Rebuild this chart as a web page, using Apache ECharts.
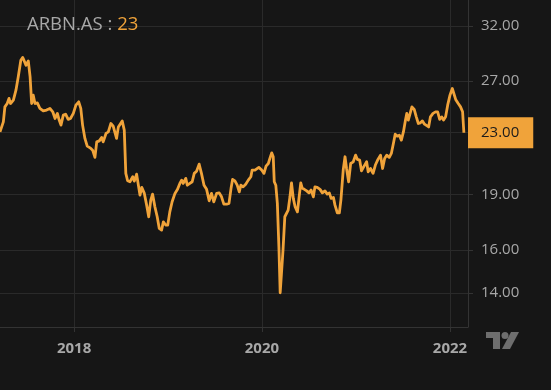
<!DOCTYPE html>
<html>
<head>
<meta charset="utf-8">
<script src="https://cdn.jsdelivr.net/npm/echarts@6/dist/echarts.min.js"></script>
<style>
html,body{margin:0;padding:0;background:#161616;}
#c{width:551px;height:390px;}
</style>
</head>
<body>
<div id="c"></div>
<script>
const dates = [
'2017-03-19','2017-04-01','2017-04-07','2017-04-16','2017-04-23','2017-04-29','2017-05-10','2017-05-20','2017-05-29','2017-06-08','2017-06-15','2017-06-20','2017-06-28','2017-07-07','2017-07-14','2017-07-20','2017-07-26','2017-08-02','2017-08-11','2017-08-21','2017-09-03','2017-09-16','2017-09-29','2017-10-10','2017-10-19','2017-10-28','2017-11-04','2017-11-11','2017-11-20','2017-11-29','2017-12-09','2017-12-18','2017-12-29',
'2018-01-08','2018-01-19','2018-01-27','2018-02-03','2018-02-12','2018-02-21','2018-03-04','2018-03-14','2018-03-23','2018-03-30','2018-04-09','2018-04-18','2018-04-24','2018-05-05','2018-05-14','2018-05-24','2018-06-02','2018-06-09','2018-06-15','2018-06-22','2018-06-28','2018-07-07','2018-07-15','2018-07-21','2018-07-28','2018-08-06','2018-08-17','2018-08-23','2018-09-01','2018-09-07','2018-09-14','2018-09-21','2018-10-01','2018-10-10','2018-10-18','2018-10-26','2018-11-02','2018-11-11','2018-11-20','2018-11-28','2018-12-07','2018-12-14','2018-12-23','2018-12-31',
'2019-01-08','2019-01-17','2019-01-28','2019-02-07','2019-02-16','2019-02-23','2019-03-01','2019-03-11','2019-03-17','2019-03-27','2019-04-05','2019-04-13','2019-04-22','2019-05-02','2019-05-11','2019-05-21','2019-05-31','2019-06-10','2019-06-19','2019-06-28','2019-07-09','2019-07-19','2019-07-28','2019-08-06','2019-08-17','2019-08-26','2019-09-03','2019-09-09','2019-09-18','2019-09-27','2019-10-05','2019-10-11','2019-10-20','2019-10-30','2019-11-09','2019-11-19','2019-11-24','2019-12-05','2019-12-11','2019-12-20','2019-12-31',
'2020-01-09','2020-01-17','2020-01-26','2020-02-01','2020-02-08','2020-02-14','2020-02-18','2020-02-24','2020-03-01','2020-03-07','2020-03-12','2020-03-17','2020-03-23','2020-03-30','2020-04-06','2020-04-12','2020-04-19','2020-04-25','2020-05-02','2020-05-09','2020-05-18','2020-05-24','2020-05-31','2020-06-06','2020-06-14','2020-06-23','2020-07-02','2020-07-10','2020-07-19','2020-07-25','2020-08-03','2020-08-14','2020-08-23','2020-09-02','2020-09-11','2020-09-19','2020-09-26','2020-10-05','2020-10-11','2020-10-20','2020-10-28','2020-11-03','2020-11-12','2020-11-19','2020-11-25','2020-12-03','2020-12-11','2020-12-21','2020-12-30',
'2021-01-06','2021-01-15','2021-01-22','2021-01-31','2021-02-11','2021-02-17','2021-02-26','2021-03-08','2021-03-17','2021-03-27','2021-04-06','2021-04-14','2021-04-22','2021-04-30','2021-05-10','2021-05-18','2021-05-26','2021-06-02','2021-06-10','2021-06-18','2021-06-26','2021-07-04','2021-07-12','2021-07-17','2021-07-23','2021-07-30','2021-08-06','2021-08-15','2021-08-23','2021-08-31','2021-09-08','2021-09-16','2021-09-24','2021-10-01','2021-10-10','2021-10-17','2021-10-27','2021-11-06','2021-11-14','2021-11-22','2021-11-30','2021-12-07','2021-12-15','2021-12-23',
'2022-01-01','2022-01-10','2022-01-16','2022-01-23','2022-02-02','2022-02-11','2022-02-19','2022-02-24'
];
const prices = [
23.06,23.79,24.92,25.18,25.58,25.18,25.44,26.24,27.35,28.80,29.04,28.80,28.35,28.73,27.35,25.18,25.84,25.18,25.23,24.80,24.61,24.67,24.80,24.54,24.04,24.42,23.92,23.55,24.29,24.36,23.97,24.04,24.42,
25.05,25.31,24.80,23.55,22.60,22.07,21.95,21.79,21.31,22.36,22.43,22.67,22.36,22.95,23.06,23.67,23.47,23.42,22.60,23.42,23.38,23.86,23.19,20.28,19.82,19.76,20.07,19.80,20.23,20.23,18.96,19.42,19.06,18.38,17.73,18.67,19.02,18.29,17.73,17.10,17.01,17.45,17.28,17.28,
18.00,18.57,19.06,19.30,19.66,19.86,19.66,19.97,19.55,19.66,19.76,20.28,20.42,20.87,20.28,19.55,19.30,18.63,19.06,18.57,19.06,19.09,18.86,18.44,18.44,18.48,19.36,19.90,19.81,19.55,19.15,19.55,19.45,19.61,19.86,20.07,20.49,20.49,20.59,20.66,20.49,
20.28,20.74,20.91,21.24,21.61,21.35,19.76,19.55,18.48,16.16,14.01,14.88,15.99,17.73,17.82,18.10,18.86,19.69,18.77,18.29,18.00,18.77,19.69,19.36,19.30,19.21,19.09,19.26,18.86,19.45,19.42,19.30,19.09,19.21,19.02,19.09,18.77,18.82,18.38,17.95,17.95,18.67,20.49,21.35,20.59,19.76,20.91,21.02,21.46,
21.18,21.13,20.44,20.71,21.02,20.38,20.59,20.28,20.81,21.18,21.46,20.59,21.24,21.46,21.31,21.57,22.25,22.90,22.76,22.83,22.48,23.06,23.92,24.42,23.92,23.79,24.92,24.72,24.16,23.67,23.72,23.86,23.62,23.67,23.42,24.16,24.42,24.54,24.54,23.97,24.16,23.92,24.16,25.05,
25.84,26.38,26.24,25.50,25.18,24.92,24.54,23.00
];
const yTicks = [14, 16, 19, 23, 27, 32];
const xTicks = ['2018-01-01', '2020-01-01', '2022-01-01'];
const xRange = ['2017-03-19', '2022-03-12'];
const symbol = 'ARBN.AS';
const lastPrice = 23.00;

const toMs = d => Date.parse(d + 'T00:00:00Z');
const xTickVals = xTicks.map(toMs);
const seriesData = dates.map((d, i) => [toMs(d), prices[i]]);

const gridColor = '#2a2a2a';
const textColor = '#a8a8a8';
const orange = '#f0a33a';

const chart = echarts.init(document.getElementById('c'), null, {renderer: 'canvas'});
chart.setOption({
  backgroundColor: '#161616',
  animation: false,
  title: {
    left: 27, top: 15, padding: 0,
    text: '{a|' + symbol + ' : }{b|' + Math.round(lastPrice) + '}',
    textStyle: {
      fontWeight: 'normal',
      rich: {
        a: {color: textColor, fontSize: 18.5, fontWeight: 'normal', fontFamily: 'Open Sans'},
        b: {color: orange, fontSize: 18.5, fontWeight: 'normal', fontFamily: 'Open Sans'}
      }
    }
  },
  grid: {left: 0, right: 83, top: 0, bottom: 63},
  xAxis: {
    type: 'value',
    min: toMs(xRange[0]),
    max: toMs(xRange[1]),
    axisLine: {show: true, onZero: false, lineStyle: {color: '#333333', width: 1}},
    axisTick: {show: true, length: 5, lineStyle: {color: '#333333'}, customValues: xTickVals},
    axisLabel: {
      customValues: xTickVals,
      color: textColor, fontSize: 15, fontWeight: 'bold', fontFamily: 'Open Sans', margin: 14,
      formatter: v => String(new Date(v).getUTCFullYear())
    },
    splitLine: {show: true, lineStyle: {color: gridColor, width: 1}}
  },
  yAxis: {
    type: 'log',
    logBase: 10,
    position: 'right',
    min: 12.6,
    max: 34.7,
    axisLine: {show: true, lineStyle: {color: '#333333', width: 1}},
    axisTick: {show: true, length: 5, lineStyle: {color: '#333333'}, customValues: yTicks},
    axisLabel: {
      customValues: yTicks,
      color: textColor, fontSize: 15, fontFamily: 'Open Sans', margin: 13,
      formatter: v => Number(v).toFixed(2)
    },
    splitLine: {show: true, lineStyle: {color: gridColor, width: 1}}
  },
  series: [{
    type: 'line',
    data: seriesData,
    showSymbol: false,
    symbol: 'none',
    clip: false,
    lineStyle: {color: orange, width: 2.8, join: 'round'},
    silent: true,
    markLine: {
      silent: true,
      symbol: 'none',
      lineStyle: {color: 'rgba(0,0,0,0)', width: 0, type: 'solid'},
      data: [{yAxis: lastPrice}],
      label: {
        show: true, position: 'end', distance: 0,
        formatter: lastPrice.toFixed(2),
        backgroundColor: orange, color: '#1b1b1b',
        fontSize: 15, fontFamily: 'Open Sans',
        padding: [8, 14, 8, 13]
      }
    }
  }],
  graphic: [{
    type: 'group', left: 486, top: 332,
    children: [
      {type: 'polygon', shape: {points: [[0,0],[14,0],[14,17],[7,17],[7,6],[0,6]]}, style: {fill: '#6e6e6e'}},
      {type: 'circle', shape: {cx: 19, cy: 3.5, r: 3.5}, style: {fill: '#6e6e6e'}},
      {type: 'polygon', shape: {points: [[25,0],[33,0],[24,17],[16,17]]}, style: {fill: '#6e6e6e'}}
    ]
  }]
});
</script>
</body>
</html>
